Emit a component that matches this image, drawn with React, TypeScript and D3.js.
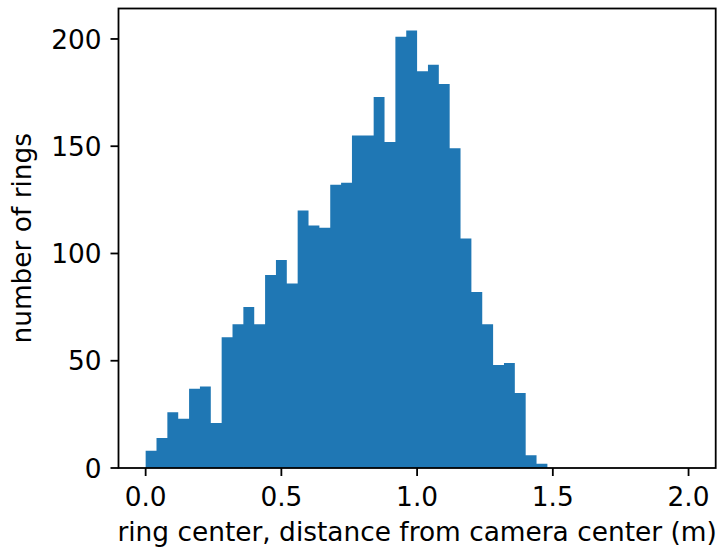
import React from "react";
import * as d3 from "d3";

const binWidth = 0.04;
const counts = [
  8, 14, 26, 23, 37, 38, 21, 61, 67, 75,
  67, 90, 97, 86, 120, 113, 112, 132, 133, 155,
  155, 173, 152, 201, 204, 185, 188, 179, 149, 107,
  82, 67, 48, 49, 35, 6, 2, 0, 0, 0,
  0, 0, 0, 0, 0, 0, 0, 0, 0, 0,
];
const xTicks = [0, 0.5, 1.0, 1.5, 2.0];
const yTicks = [0, 50, 100, 150, 200];
const xLabel = "ring center, distance from camera center (m)";
const yLabel = "number of rings";

export default function App() {
  const W = 720, H = 551;
  const left = 118.5, right = 715.7, top = 8.5, bottom = 468;
  const x = d3.scaleLinear().domain([-0.1, 2.1]).range([left, right]);
  const yMax = (d3.max(counts) as number) * 1.05;
  const y = d3.scaleLinear().domain([0, yMax]).range([bottom, top]);
  const font = "DejaVu Sans";
  const fs = 26.4;
  const lw = 1.8;
  const tick = 8;
  const p = d3.path();
  counts.forEach((c, i) => {
    if (c <= 0) return;
    const x0 = x(i * binWidth);
    const x1 = x((i + 1) * binWidth);
    p.rect(x0, y(c), x1 - x0, y(0) - y(c));
  });
  return (
    <svg width={W} height={H} style={{ position: "absolute", left: 0, top: 0 }} fontFamily={font}>
      <rect x={0} y={0} width={W} height={H} fill="#fff" />
      <path d={p.toString()} fill="#1f77b4" />
      <rect x={left} y={top} width={right - left} height={bottom - top} fill="none" stroke="#000" strokeWidth={lw} strokeLinejoin="miter" />
      {xTicks.map((t) => (
        <g key={"x" + t}>
          <line x1={x(t)} x2={x(t)} y1={bottom} y2={bottom + tick} stroke="#000" strokeWidth={lw} />
          <text x={x(t)} y={506} fontSize={fs} textAnchor="middle" fill="#000">{t.toFixed(1)}</text>
        </g>
      ))}
      {yTicks.map((t) => (
        <g key={"y" + t}>
          <line x1={left - tick} x2={left} y1={y(t)} y2={y(t)} stroke="#000" strokeWidth={lw} />
          <text x={left - tick - 9} y={y(t) + 9.6} fontSize={fs} textAnchor="end" fill="#000">{t}</text>
        </g>
      ))}
      <text x={(left + right) / 2} y={541} fontSize={fs} textAnchor="middle" fill="#000">{xLabel}</text>
      <text transform={`translate(31,${(top + bottom) / 2}) rotate(-90)`} fontSize={fs} textAnchor="middle" fill="#000">{yLabel}</text>
    </svg>
  );
}
